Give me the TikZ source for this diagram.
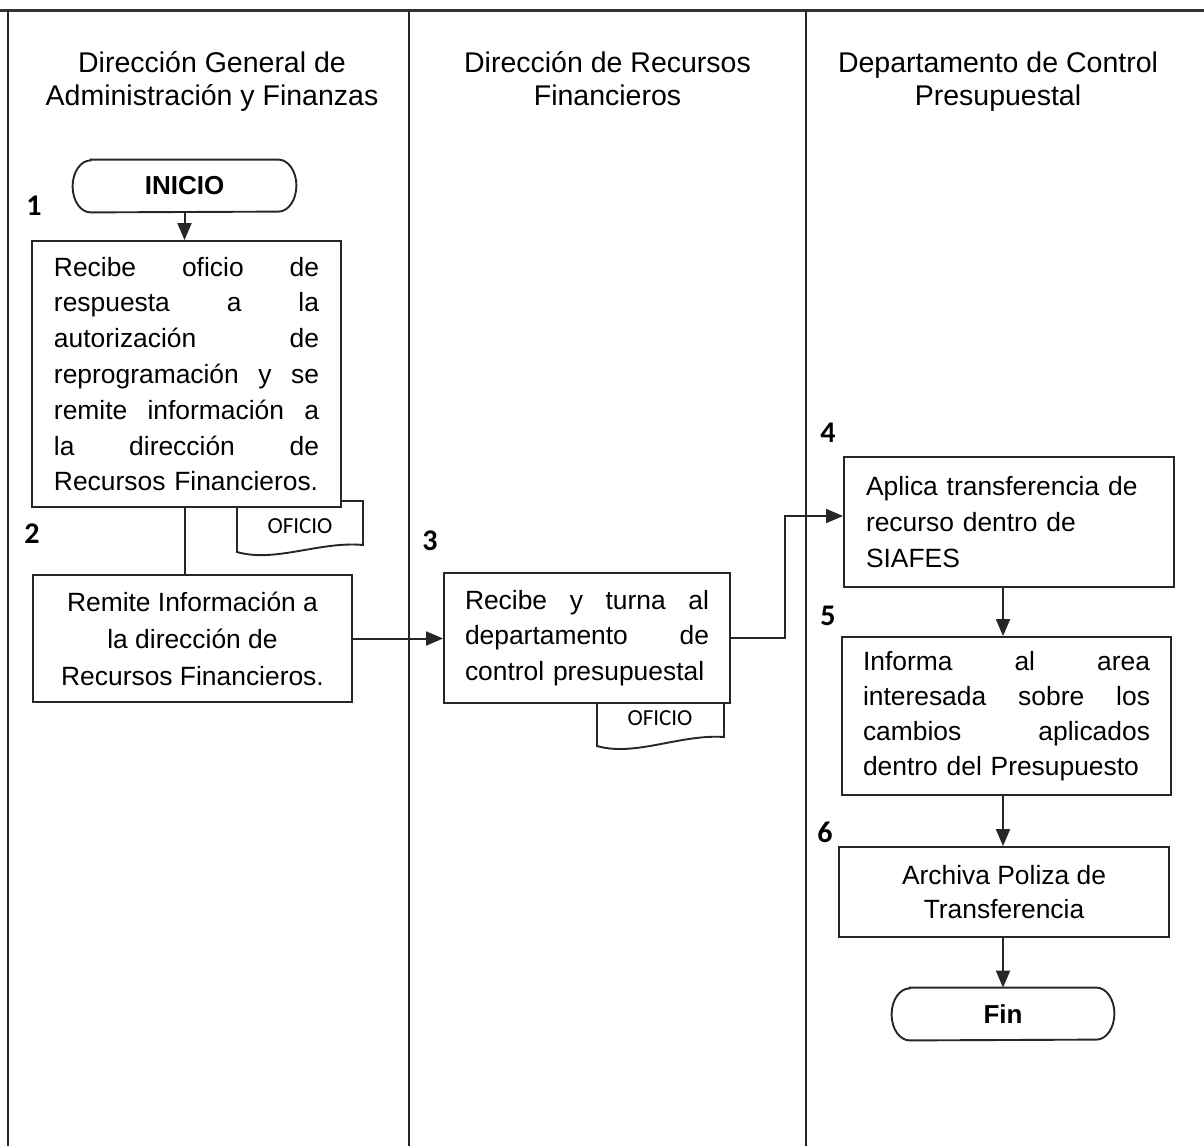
\documentclass[tikz,border=0pt]{standalone}
\usepackage{fontspec}
\setmainfont{Liberation Sans}
\newfontfamily\calibri{Carlito}
\usetikzlibrary{arrows.meta}

% a justified line of fixed width (words separated by \hfill)
\newcommand\jline[2]{\leavevmode\hbox to #1{#2}}
% outline of a start/end terminal around a node
\newcommand\termoutline[1]{%
  \draw[termline] ([xshift=9pt]#1.north west) -- ([xshift=-9pt]#1.north east)
    arc[start angle=90,end angle=-90,x radius=9pt,y radius=13pt]
    -- ([xshift=9pt]#1.south west)
    arc[start angle=270,end angle=90,x radius=9pt,y radius=13pt] -- cycle;}

\tikzset{
  lane/.style={line width=0.8pt, draw=black!85},
  topline/.style={line width=1.5pt, draw=black!80},
  head/.style={font=\fontsize{14.25}{16.5}\selectfont, align=center, anchor=north, inner sep=0pt},
  stepbox/.style={draw=black!85, line width=0.95pt, fill=white,
    font=\fontsize{13.2}{17.9}\selectfont, inner sep=0pt},
  term/.style={font=\fontsize{13}{15}\selectfont\bfseries, inner sep=0pt, minimum height=26pt},
  termline/.style={draw=black!85, line width=0.95pt},
  num/.style={font=\calibri\bfseries\fontsize{15}{15}\selectfont, inner sep=0pt},
  doc/.style={draw=black!85, line width=0.95pt, fill=white},
  doctext/.style={font=\calibri\fontsize{11.5}{12}\selectfont, inner sep=0pt},
  arr/.style={draw=black!85, line width=1pt, -{Triangle[length=8.5pt,width=7pt]}},
  link/.style={draw=black!85, line width=1pt},
}

\begin{document}
\begin{tikzpicture}[x=0.5pt,y=-0.5pt]
\useasboundingbox (0,0) rectangle (1204,1146);

% swimlane frame
\draw[topline] (0,10) -- (1204,10);
\draw[lane] (8,10) -- (8,1146);
\draw[lane] (409,10) -- (409,1146);
\draw[lane] (806,10) -- (806,1146);

% lane headings
\node[head] (h1) at (212,51) {Dirección General de\\Administración y Finanzas};
\node[head] (h2) at (607.5,51) {Dirección de Recursos\\Financieros};
\node[head] (h3) at (998,51) {Departamento de Control\\Presupuestal};

% start
\node[term, minimum width=111.5pt] (ini) at (184.5,186) {INICIO};
\termoutline{ini}

% document attached to step 1
\draw[doc] (237,501) -- (237,552) .. controls (275,563) and (320,541) .. (363,545) -- (363,501) -- cycle;
\node[doctext] (of1) at (300,526) {OFICIO};

% step 1
\node[stepbox, minimum width=154.5pt, minimum height=133pt, text width=132.5pt, align=left] (b1) at (186.5,374)
  {\jline{132.5pt}{Recibe\hfill oficio\hfill de}\\
   \jline{132.5pt}{respuesta\hfill a\hfill la}\\
   \jline{132.5pt}{autorización\hfill de}\\
   \jline{132.5pt}{reprogramación\hfill y\hfill se}\\
   \jline{132.5pt}{remite\hfill información\hfill a}\\
   \jline{132.5pt}{la\hfill dirección\hfill de}\\
   Recursos Financieros.};

% step 2
\node[stepbox, minimum width=159.5pt, minimum height=63.5pt, align=center,
      font=\fontsize{13.2}{18.5}\selectfont] (b2) at (192.5,638.5)
  {Remite Información a\\la dirección de\\Recursos Financieros.};

% document attached to step 3
\draw[doc] (597,698) -- (597,746) .. controls (635,757) and (680,734) .. (724,737) -- (724,698) -- cycle;
\node[doctext] (of2) at (660,718) {OFICIO};

% step 3
\node[stepbox, minimum width=143pt, minimum height=65pt, text width=122pt, align=left] (b3) at (587,638)
  {\jline{122pt}{Recibe\hfill y\hfill turna\hfill al}\\
   \jline{122pt}{departamento\hfill de}\\
   control presupuestal};

% step 4
\node[stepbox, minimum width=165pt, minimum height=65pt, text width=143pt, align=left] (b4) at (1009,522)
  {Aplica transferencia de\\recurso dentro de\\SIAFES};

% step 5
\node[stepbox, minimum width=164.5pt, minimum height=79pt, text width=143.5pt, align=left,
      font=\fontsize{13.2}{17.6}\selectfont] (b5) at (1006.5,716)
  {\jline{143.5pt}{Informa\hfill al\hfill area}\\
   \jline{143.5pt}{interesada\hfill sobre\hfill los}\\
   \jline{143.5pt}{cambios\hfill aplicados}\\
   dentro del Presupuesto};

% step 6
\node[stepbox, minimum width=165pt, minimum height=45pt, align=center,
      font=\fontsize{13.2}{17}\selectfont] (b6) at (1004,892)
  {Archiva Poliza de\\Transferencia};

% end
\node[term, minimum width=111pt] (fin) at (1003,1014) {Fin};
\termoutline{fin}

% step numbers
\node[num] (n1) at (34,206) {1};
\node[num] (n2) at (32,534) {2};
\node[num] (n3) at (430,541) {3};
\node[num] (n4) at (828,433) {4};
\node[num] (n5) at (828,616) {5};
\node[num] (n6) at (825,832) {6};

% connectors
\draw[arr] (ini) -- (ini |- b1.north);
\draw[link] (ini |- b1.south) -- (ini |- b2.north);
\draw[arr] (b2.east) -- (b2.east -| b3.west);
\coordinate (j) at (785,516);
\draw[arr] (b3.east) -| (j) -- (j -| b4.west);
\draw[arr] (b4.south -| fin) -- (b5.north -| fin);
\draw[arr] (b5.south -| fin) -- (b6.north -| fin);
\draw[arr] (b6.south -| fin) -- (fin);
\end{tikzpicture}
\end{document}
